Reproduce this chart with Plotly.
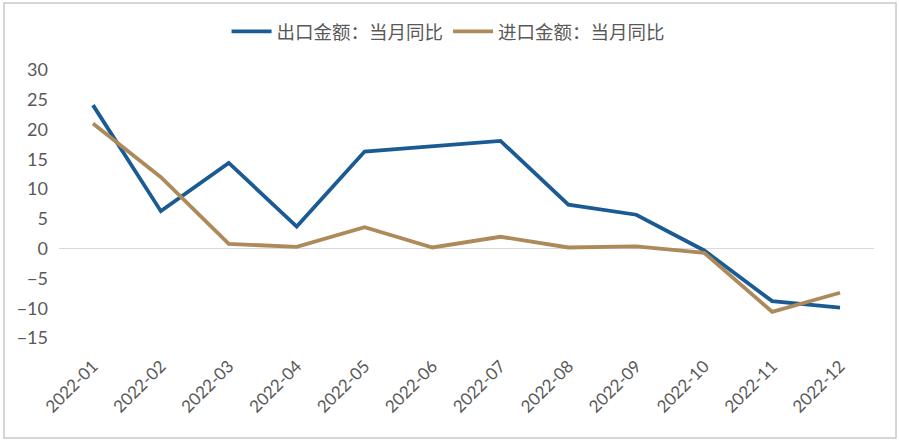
import plotly.graph_objects as go

months = ["2022-01", "2022-02", "2022-03", "2022-04", "2022-05", "2022-06",
          "2022-07", "2022-08", "2022-09", "2022-10", "2022-11", "2022-12"]
export_yoy = [24.1, 6.3, 14.4, 3.7, 16.3, 17.2, 18.1, 7.4, 5.7, -0.3, -8.8, -9.9]
import_yoy = [21.0, 12.0, 0.8, 0.3, 3.6, 0.2, 2.0, 0.2, 0.4, -0.7, -10.6, -7.4]
y_ticks = [-15, -10, -5, 0, 5, 10, 15, 20, 25, 30]

name_export = "出口金额：当月同比"
name_import = "进口金额：当月同比"

font_family = "Lato, 'Noto Sans CJK SC', sans-serif"
text_color = "#595959"

fig = go.Figure()
fig.add_trace(go.Scatter(x=months, y=export_yoy, mode="lines", name=name_export,
                         line=dict(color="#1B5B93", width=3.8)))
fig.add_trace(go.Scatter(x=months, y=import_yoy, mode="lines", name=name_import,
                         line=dict(color="#AD8A5A", width=3.8)))

fig.update_layout(
    width=899, height=443,
    margin=dict(l=59, r=25, t=70, b=105),
    paper_bgcolor="white", plot_bgcolor="white",
    font=dict(family=font_family, color=text_color),
    showlegend=True,
    legend=dict(orientation="h", x=0.478, xanchor="center", y=1.142, yanchor="middle",
                font=dict(size=18.5, color=text_color, family="'Noto Sans CJK SC', sans-serif"),
                itemwidth=40, tracegroupgap=0),
    xaxis=dict(type="category", range=[-0.5, 11.5], showgrid=False, zeroline=False,
               showline=False, ticks="", tickangle=-45,
               tickfont=dict(size=17, color=text_color), ticklabelstandoff=14),
    yaxis=dict(range=[-15, 30], tickvals=y_ticks, showgrid=False, zeroline=True,
               zerolinecolor="#d9d9d9", zerolinewidth=1, showline=False, ticks="",
               tickfont=dict(size=18, color=text_color), ticklabelstandoff=10),
    shapes=[dict(type="rect", xref="paper", yref="paper",
                 x0=-0.0675, x1=1.027, y0=-0.373, y1=1.25,
                 line=dict(color="#c8c8c8", width=1.5), fillcolor="rgba(0,0,0,0)",
                 layer="below")],
)

fig.write_html("out.html")
